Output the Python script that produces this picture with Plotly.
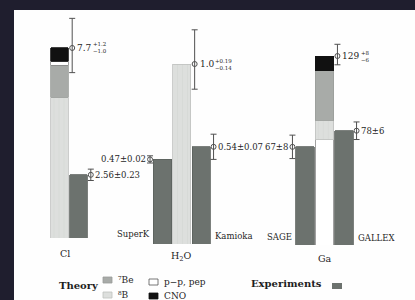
import plotly.graph_objects as go

W, H = 415, 300

# ---------------- data ----------------
GROUPS = ["Cl", "H<sub>2</sub>O", "Ga"]
SOURCES = ["⁸B", "⁷Be", "p−p, pep", "CNO"]
CL_THEORY = [5.7, 1.3, 0.16, 0.54]
H2O_THEORY = [1.0, 0.0, 0.0, 0.0]
GA_THEORY = [13, 34, 72, 10]
THEORY_TOTAL = [7.7, 1.0, 129]
THEORY_PLUS = [1.2, 0.19, 8]
THEORY_MINUS = [1.0, 0.14, 6]

EXP_NAMES = ["", "SuperK", "Kamioka", "SAGE", "GALLEX"]
EXP_GROUP = [0, 1, 1, 2, 2]
EXP_VALUES = [2.56, 0.47, 0.54, 67, 78]
EXP_ERRORS = [0.23, 0.02, 0.07, 8, 6]

# ---------------- style / layout ----------------
FONT = "DejaVu Serif"
TXT = "#1e1e1e"
ERRC = "#505050"
SOURCE_COLORS = ["#dddfdd", "#a8aba8", "#ffffff", "#111111"]
SOURCE_LINES = ["#bfc1bf", "#9a9d9a", "#8a8a8a", "#111111"]
EXP_COLOR = "#6c726e"
STACK_ORDER = [[0, 1, 2, 3], [0], [2, 0, 1, 3]]
THEORY_SLOT = [0, 1, 1]
EXP_SLOT = [1, 0, 2, 0, 2]
EXP_SIDE = [1, -1, 1, -1, 1]
# per group: first bar centre (px), slot width (px), x range (slots), bottom (px), px per unit
AXES = [
    dict(c0=59.5, slot=19.0, r=(-2.0, 2.6), bottom=238, ppu=24.68, lab_x=0.29, lab_dy=-15),
    dict(c0=162.5, slot=19.3, r=(-2.2, 3.3), bottom=244, ppu=180.0, lab_x=1.0, lab_dy=-12),
    dict(c0=305.0, slot=19.5, r=(-1.5, 3.3), bottom=245, ppu=1.465, lab_x=1.0, lab_dy=-13),
]
TOP = 10
NAME_SHIFT = {1: (-1, 10), 2: (2, 8), 3: (-1, 8), 4: (2, 7)}
VSIZE = 8.5

COMPONENTS = [CL_THEORY, H2O_THEORY, GA_THEORY]


def axn(g):
    return "" if g == 0 else str(g + 1)


def text_w(s, size):
    w = 0
    for ch in s:
        w += 0.32 if ch in ".," else (0.84 if ch in "+−±" else 0.64)
    return w * size


fig = go.Figure()
annotations = []
shapes = []

# white paper panel
shapes.append(dict(type="rect", xref="paper", yref="paper", x0=14 / W, x1=1, y0=0,
                   y1=1 - TOP / H, fillcolor="#fefefe", line=dict(width=0), layer="below"))

for g in range(3):
    a = AXES[g]
    xa, ya = "x" + axn(g), "y" + axn(g)
    comps = COMPONENTS[g]
    ts = THEORY_SLOT[g]
    for k in STACK_ORDER[g]:
        mk = dict(color=SOURCE_COLORS[k], line=dict(color=SOURCE_LINES[k], width=0.8))
        if k == 0:
            mk["pattern"] = dict(shape="|", fgcolor="#c9ccc9", size=5, solidity=0.12)
        fig.add_bar(x=[ts], y=[comps[k]], width=0.94, marker=mk, xaxis=xa, yaxis=ya,
                    showlegend=False, hoverinfo="skip")
    # theory error bar
    off = 0.5 + 3.2 / a["slot"]
    fig.add_scatter(x=[ts + off], y=[THEORY_TOTAL[g]], mode="markers", xaxis=xa, yaxis=ya,
                    marker=dict(symbol="circle-open", size=5, color=ERRC, line=dict(width=1)),
                    error_y=dict(type="data", symmetric=False, array=[THEORY_PLUS[g]],
                                 arrayminus=[THEORY_MINUS[g]], color=ERRC, thickness=1, width=3),
                    showlegend=False, hoverinfo="skip")
    main = str(THEORY_TOTAL[g])
    xs = off * a["slot"] + 3
    annotations.append(dict(x=ts, y=THEORY_TOTAL[g], xref=xa, yref=ya, text=main,
                            xanchor="left", yanchor="middle", xshift=xs, showarrow=False,
                            font=dict(family=FONT, size=9, color=TXT)))
    annotations.append(dict(x=ts, y=THEORY_TOTAL[g], xref=xa, yref=ya,
                            text="+" + str(THEORY_PLUS[g]) + "<br>−" + str(THEORY_MINUS[g]),
                            xanchor="left", yanchor="middle",
                            xshift=xs + text_w(main, 9) + 1,
                            showarrow=False, align="left",
                            font=dict(family=FONT, size=5.5, color=TXT)))
    # group label
    annotations.append(dict(x=a["lab_x"], y=0, xref=xa, yref=ya, text=GROUPS[g],
                            yshift=a["lab_dy"], yanchor="middle", showarrow=False,
                            font=dict(family=FONT, size=9.5, color=TXT)))

for i in range(len(EXP_VALUES)):
    g = EXP_GROUP[i]
    a = AXES[g]
    xa, ya = "x" + axn(g), "y" + axn(g)
    s = EXP_SLOT[i]
    side = EXP_SIDE[i]
    fig.add_bar(x=[s], y=[EXP_VALUES[i]], width=0.94, xaxis=xa, yaxis=ya,
                marker=dict(color=EXP_COLOR, line=dict(color="#5b605c", width=0.8)),
                showlegend=False, hoverinfo="skip")
    off = side * (0.5 + 2.8 / a["slot"])
    fig.add_scatter(x=[s + off], y=[EXP_VALUES[i]], mode="markers", xaxis=xa, yaxis=ya,
                    marker=dict(symbol="circle-open", size=5, color=ERRC, line=dict(width=1)),
                    error_y=dict(type="data", array=[EXP_ERRORS[i]], color=ERRC, thickness=1, width=3),
                    showlegend=False, hoverinfo="skip")
    annotations.append(dict(x=s + off, y=EXP_VALUES[i], xref=xa, yref=ya,
                            text=f"{EXP_VALUES[i]}±{EXP_ERRORS[i]}",
                            xanchor="left" if side > 0 else "right", yanchor="middle",
                            xshift=2 * side, showarrow=False,
                            font=dict(family=FONT, size=VSIZE, color=TXT)))
    if EXP_NAMES[i]:
        dx, dy = NAME_SHIFT[i]
        annotations.append(dict(x=s + 0.5 * (1 if dx > 0 else -1), y=0, xref=xa, yref=ya,
                                text=EXP_NAMES[i], xanchor="left" if dx > 0 else "right",
                                yanchor="middle", xshift=dx, yshift=dy, showarrow=False,
                                font=dict(family=FONT, size=8.5, color=TXT)))

# ---------------- legend (drawn) ----------------
def px(x):
    return x / W


def py(y):
    return 1 - y / H


annotations.append(dict(x=px(57), y=py(285), xref="paper", yref="paper", text="<b>Theory</b>",
                        xanchor="left", yanchor="middle", showarrow=False,
                        font=dict(family=FONT, size=10, color=TXT)))
annotations.append(dict(x=px(249), y=py(283), xref="paper", yref="paper", text="<b>Experiments</b>",
                        xanchor="left", yanchor="middle", showarrow=False,
                        font=dict(family=FONT, size=10, color=TXT)))
LEG_POS = {1: (103, 280), 0: (103, 295), 2: (149, 282), 3: (149, 296)}
for k, (lx, ly) in LEG_POS.items():
    shapes.append(dict(type="rect", xref="paper", yref="paper", x0=px(lx), x1=px(lx + 9),
                       y0=py(ly + 3), y1=py(ly - 3), fillcolor=SOURCE_COLORS[k],
                       line=dict(color="#555" if k == 2 else SOURCE_LINES[k], width=0.8)))
    annotations.append(dict(x=px(lx + 13), y=py(ly), xref="paper", yref="paper", text=SOURCES[k],
                            xanchor="left", yanchor="middle", showarrow=False,
                            font=dict(family=FONT, size=9, color=TXT)))
shapes.append(dict(type="rect", xref="paper", yref="paper", x0=px(332), x1=px(342),
                   y0=py(289), y1=py(283), fillcolor=EXP_COLOR, line=dict(width=0)))

layout = dict(width=W, height=H, margin=dict(l=0, r=0, t=0, b=0), autosize=False,
              paper_bgcolor="#1f1e2e", plot_bgcolor="rgba(0,0,0,0)", barmode="stack",
              showlegend=False, annotations=annotations, shapes=shapes)
for g in range(3):
    a = AXES[g]
    n = axn(g)
    layout["xaxis" + n] = dict(domain=[(a["c0"] + a["r"][0] * a["slot"]) / W,
                                       (a["c0"] + a["r"][1] * a["slot"]) / W],
                               range=list(a["r"]), visible=False, anchor="y" + n, fixedrange=True)
    layout["yaxis" + n] = dict(domain=[1 - a["bottom"] / H, 1 - TOP / H],
                               range=[0, (a["bottom"] - TOP) / a["ppu"]], visible=False,
                               anchor="x" + n, fixedrange=True)
fig.update_layout(**layout)
fig.write_html("out.html", config={"displayModeBar": False},
               post_script="document.body.style.margin='0';document.body.style.background='#1f1e2e';")
